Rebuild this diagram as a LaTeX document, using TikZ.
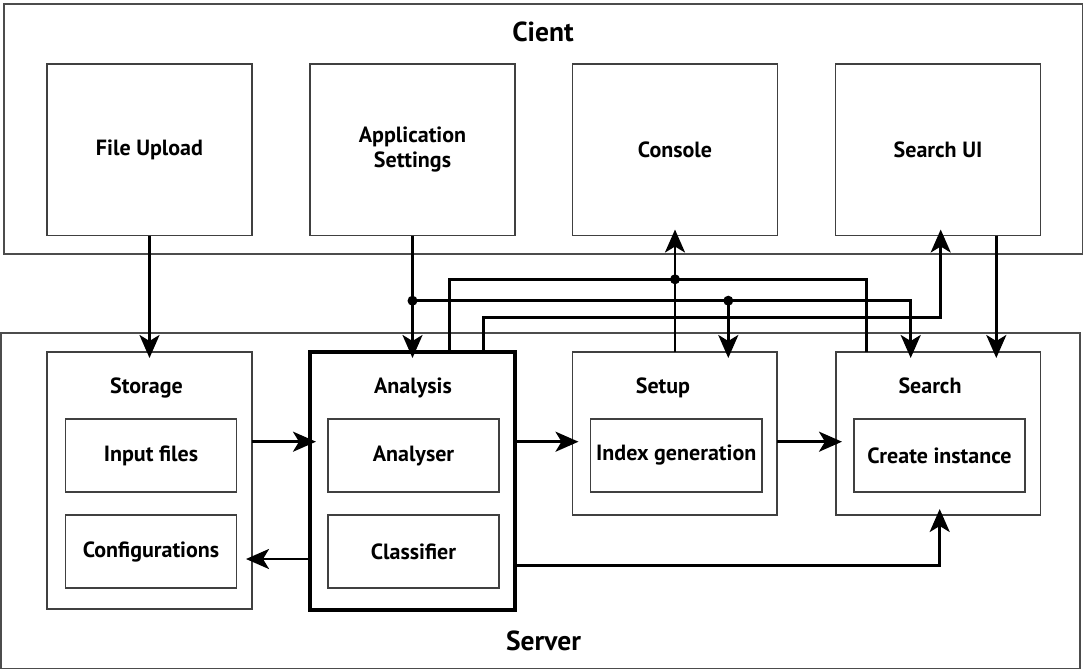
\documentclass[tikz,border=0pt]{standalone}
\usepackage{fontspec}
\setmainfont{PT Sans}
\usetikzlibrary{arrows.meta}
\newcommand\lblfont{\fontsize{22}{25}\selectfont\bfseries}
\newcommand\bigfont{\fontsize{27.5}{30}\selectfont\bfseries}
\begin{document}
\begin{tikzpicture}[x=1pt,y=-1pt,
  outerbox/.style={draw=black!70, line width=1.3pt, rectangle, inner sep=0pt, outer sep=0pt, anchor=north west},
  box/.style={draw=black!75, line width=1.3pt, rectangle, inner sep=0pt, outer sep=0pt, anchor=north west, align=center, font=\lblfont},
  thickbox/.style={box, draw=black, line width=4.5pt},
  ttl/.style={anchor=base, inner sep=0pt, font=\lblfont},
  bigttl/.style={anchor=base, inner sep=0pt, font=\bigfont},
  wire/.style={line width=2.8pt, black},
  arr/.style={wire, -{Stealth[length=23pt,width=20pt,inset=6pt]}, shorten >=-6pt},
  dot/.style={black}
]
\useasboundingbox (0,0) rectangle (1085,670);
\fill[white] (0,0) rectangle (1085,670);

% outer containers
\node[outerbox, minimum width=1078.5pt, minimum height=250pt] (client) at (4,4) {};
\node[outerbox, minimum width=1079pt, minimum height=335.5pt] (server) at (1,333) {};
\node[bigttl] (clientT) at (543,41.7) {Cient};
\node[bigttl] (serverT) at (543.5,650) {Server};

% client boxes
\node[box, minimum width=205pt, minimum height=171.5pt] (fileup) at (47,64) {File Upload};
\node[box, minimum width=205pt, minimum height=171.5pt] (appset) at (310,64) {Application\\Settings};
\node[box, minimum width=205pt, minimum height=171.5pt] (console) at (572.5,64) {Console};
\node[box, minimum width=205pt, minimum height=171.5pt] (searchui) at (835.5,64) {Search UI};

% server boxes
\node[box, minimum width=205pt, minimum height=257pt] (storage) at (47,352) {};
\node[thickbox, minimum width=205pt, minimum height=258pt] (analysis) at (310,352) {};
\node[box, minimum width=204.5pt, minimum height=163pt] (setup) at (572.5,352) {};
\node[box, minimum width=204.5pt, minimum height=163pt] (search) at (836,352) {};

\node[ttl] (storageT) at (146.5,393) {Storage};
\node[ttl] (analysisT) at (413,393) {Analysis};
\node[ttl] (setupT) at (663,393) {Setup};
\node[ttl] (searchT) at (930,393) {Search};

\node[box, minimum width=171pt, minimum height=73pt] (inputf) at (65.5,419) {Input files};
\node[box, minimum width=171pt, minimum height=73pt] (config) at (65.5,515) {Configurations};
\node[box, minimum width=171pt, minimum height=73pt] (analyser) at (328,419) {Analyser};
\node[box, minimum width=171pt, minimum height=73pt] (classif) at (328,515) {Classifier};
\node[box, minimum width=171.5pt, minimum height=73pt] (indexg) at (590.5,419) {Index generation};
\node[box, minimum width=171pt, minimum height=73pt] (createi) at (854,419) {Create instance};

% helper coordinates
\coordinate (yA) at (0,279.3);
\coordinate (yB) at (0,300.7);
\coordinate (yC) at (0,317.7);
\coordinate (yM) at (0,441.7);
\coordinate (yL) at (0,559);
\coordinate (yD) at (0,565.7);
\coordinate (xA1) at (449.4,0);
\coordinate (xA2) at (866.5,0);
\coordinate (xCon) at (675,0);
\coordinate (xB2) at (728.3,0);
\coordinate (xB3) at (910.7,0);
\coordinate (xC1) at (483.8,0);
\coordinate (xC2) at (940.7,0);
\coordinate (xS) at (996.3,0);
\coordinate (xD) at (939.7,0);

% client -> server
\draw[arr] (fileup.south) -- (storage.north);
\draw[arr] (appset.south) -- (analysis.north);
\draw[arr] (appset.south |- yB) -| (search.north -| xB3);
\draw[arr] (xB2 |- yB) -- (setup.north -| xB2);
\fill[dot] (appset.south |- yB) circle (5pt);
\fill[dot] (xB2 |- yB) circle (5pt);

% bus to console
\draw[wire] (analysis.north -| xA1) |- (xA2 |- yA) -- (search.north -| xA2);
\draw[arr] (setup.north -| xCon) -- (console.south -| xCon);
\fill[dot] (xCon |- yA) circle (5pt);

% analysis -> search ui
\draw[arr] (analysis.north -| xC1) |- (xC2 |- yC) -- (searchui.south -| xC2);
% search ui -> search
\draw[arr] (searchui.south -| xS) -- (search.north -| xS);

% horizontal flows
\draw[arr] (storage.east |- yM) -- (analysis.west |- yM);
\draw[arr] (analysis.west |- yL) -- (storage.east |- yL);
\draw[arr] (analysis.east |- yM) -- (setup.west |- yM);
\draw[arr] (setup.east |- yM) -- (search.west |- yM);
\draw[arr] (analysis.east |- yD) -| (search.south -| xD);
\end{tikzpicture}
\end{document}
